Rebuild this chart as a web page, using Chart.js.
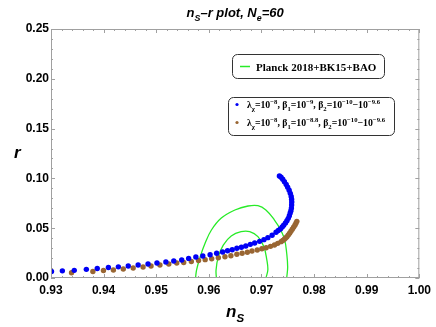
<!DOCTYPE html>
<html>
<head>
<meta charset="utf-8">
<script src="https://cdn.jsdelivr.net/npm/chart.js@4.4.1/dist/chart.umd.min.js"></script>
<style>
  html, body { margin: 0; padding: 0; background: #fff; }
  #wrap { width: 436px; height: 327px; }
</style>
</head>
<body>
<div id="wrap"><canvas id="nsr"></canvas></div>
<script>
// ---- data ----
const blueNs = [0.93009, 0.93216, 0.93442, 0.93672, 0.93879, 0.94091, 0.94280, 0.94468, 0.94656, 0.94844,
  0.95014, 0.95183, 0.95333, 0.95484, 0.95616, 0.95753, 0.95885, 0.96024, 0.96148, 0.96261,
  0.96355, 0.96444, 0.96532, 0.96619, 0.96702, 0.96788, 0.96871, 0.96965, 0.97046, 0.97121,
  0.97202, 0.97277, 0.97319, 0.97360, 0.97394, 0.97422, 0.97456, 0.97484, 0.97509, 0.97530,
  0.97546, 0.97560, 0.97569, 0.97573, 0.97575, 0.97573, 0.97565, 0.97548, 0.97526, 0.97498,
  0.97470, 0.97436, 0.97404, 0.97372, 0.97341];
const blueR = [0.0065, 0.0072, 0.0077, 0.0087, 0.0095, 0.0105, 0.0112, 0.0120, 0.0131, 0.0141,
  0.0151, 0.0161, 0.0171, 0.0181, 0.0197, 0.0211, 0.0221, 0.0234, 0.0248, 0.0261,
  0.0274, 0.0284, 0.0298, 0.0308, 0.0321, 0.0338, 0.0351, 0.0368, 0.0385, 0.0405,
  0.0429, 0.0459, 0.0477, 0.0492, 0.0512, 0.0529, 0.0552, 0.0575, 0.0599, 0.0625,
  0.0652, 0.0675, 0.0702, 0.0733, 0.0763, 0.0790, 0.0818, 0.0850, 0.0881, 0.0911,
  0.0939, 0.0967, 0.0991, 0.1011, 0.1024];

const brownNs = [0.93390, 0.93796, 0.93997, 0.94186, 0.94374, 0.94562, 0.94750, 0.94901, 0.95070, 0.95239,
  0.95390, 0.95522, 0.95667, 0.95804, 0.95930, 0.96054, 0.96180, 0.96306, 0.96419, 0.96532,
  0.96632, 0.96732, 0.96820, 0.96920, 0.97008, 0.97089, 0.97172, 0.97247, 0.97309, 0.97372,
  0.97405, 0.97435, 0.97460, 0.97484, 0.97510, 0.97535, 0.97560, 0.97586, 0.97610, 0.97635, 0.97655, 0.97672];
const brownR = [0.0053, 0.0065, 0.0075, 0.0080, 0.0090, 0.0100, 0.0110, 0.0120, 0.0131, 0.0141,
  0.0151, 0.0156, 0.0166, 0.0176, 0.0184, 0.0194, 0.0204, 0.0214, 0.0224, 0.0238,
  0.0248, 0.0258, 0.0271, 0.0281, 0.0294, 0.0304, 0.0318, 0.0331, 0.0348, 0.0365,
  0.0376, 0.0389, 0.0402, 0.0415, 0.0432, 0.0449, 0.0469, 0.0489, 0.0509, 0.0529, 0.0549, 0.0569];

// Planck 2018+BK15+BAO contours (95% outer, 68% inner)
const outerNs = [0.95747, 0.95766, 0.95836, 0.95930, 0.96049, 0.96237, 0.96495, 0.96745, 0.96933,
  0.97084, 0.97247, 0.97366, 0.97441, 0.97479, 0.97498, 0.97479];
const outerR = [0.0, 0.008, 0.0214, 0.0351, 0.0482, 0.0602, 0.0683, 0.0723, 0.0726,
  0.0683, 0.0582, 0.0482, 0.0382, 0.0251, 0.0110, 0.0];
const innerNs = [0.96143, 0.96137, 0.96180, 0.96274, 0.96425, 0.96613, 0.96777, 0.96933,
  0.97046, 0.97102, 0.97121, 0.97084];
const innerR = [0.0, 0.008, 0.0214, 0.0331, 0.0422, 0.0465, 0.0465, 0.0415,
  0.0314, 0.0181, 0.008, 0.0];

const xTickVals = [0.93, 0.94, 0.95, 0.96, 0.97, 0.98, 0.99, 1.00];
const yTickVals = [0.00, 0.05, 0.10, 0.15, 0.20, 0.25];

const BLUE = 'rgb(0,0,245)';
const BROWN = 'rgb(153,102,51)';
const GREEN = 'rgb(40,235,40)';

const pts = (xs, ys) => xs.map((v, i) => ({ x: v, y: ys[i] }));

// texte avec indices / exposants : [texte, 'n' | 'sub' | 'sup']
function drawRich(ctx, segs, x, y, size, family, style, measureOnly) {
    let cx = x;
    for (const [t, m] of segs) {
        const s = m === 'n' ? size : size * 0.68;
        ctx.font = `${style} ${s}px ${family}`;
        const dy = m === 'sub' ? size * 0.28 : (m === 'sup' ? -size * 0.4 : 0);
        if (!measureOnly) ctx.fillText(t, cx, y + dy);
        cx += ctx.measureText(t).width;
    }
    return cx - x;
}

const titleSegs = [['n', 'n'], ['S', 'sub'], ['\u2013r plot, N', 'n'], ['e', 'sub'], ['=60', 'n']];
const legend1 = 'Planck 2018+BK15+BAO';
const legendRows = [
    [['\u03bb', 'n'], ['\u03c7', 'sub'], ['=10', 'n'], ['\u22128', 'sup'], [', \u03b2', 'n'], ['1', 'sub'], ['=10', 'n'], ['\u22129', 'sup'],
     [', \u03b2', 'n'], ['2', 'sub'], ['=10', 'n'], ['\u221210', 'sup'], ['\u221210', 'n'], ['\u22129.6', 'sup']],
    [['\u03bb', 'n'], ['\u03c7', 'sub'], ['=10', 'n'], ['\u22128', 'sup'], [', \u03b2', 'n'], ['1', 'sub'], ['=10', 'n'], ['\u22128.8', 'sup'],
     [', \u03b2', 'n'], ['2', 'sub'], ['=10', 'n'], ['\u221210', 'sup'], ['\u221210', 'n'], ['\u22129.6', 'sup']]
];

function roundBox(ctx, x, y, w, h, r) {
    ctx.beginPath();
    ctx.moveTo(x + r, y);
    ctx.arcTo(x + w, y, x + w, y + h, r);
    ctx.arcTo(x + w, y + h, x, y + h, r);
    ctx.arcTo(x, y + h, x, y, r);
    ctx.arcTo(x, y, x + w, y, r);
    ctx.closePath();
    ctx.fillStyle = '#fff';
    ctx.fill();
    ctx.strokeStyle = '#333';
    ctx.lineWidth = 1;
    ctx.stroke();
}

// -----------------------------
// Cadre, graduations internes, titres, légendes
// -----------------------------
const framePlugin = {
    id: 'frame',
    afterDraw(chart) {
        const { ctx, chartArea: a, scales: { x, y } } = chart;
        ctx.save();
        ctx.strokeStyle = '#a0a0a0';
        ctx.lineWidth = 1;
        ctx.strokeRect(a.left + 0.5, a.top + 0.5, a.right - a.left - 1, a.bottom - a.top - 1);
        ctx.beginPath();
        for (let i = 0; i <= 35; i++) {
            const px = Math.round(x.getPixelForValue(0.93 + i * 0.002)) + 0.5;
            const len = i % 5 === 0 ? 4 : 2;
            ctx.moveTo(px, a.bottom); ctx.lineTo(px, a.bottom - len);
            ctx.moveTo(px, a.top); ctx.lineTo(px, a.top + len);
        }
        for (let i = 0; i <= 25; i++) {
            const py = Math.round(y.getPixelForValue(i * 0.01)) + 0.5;
            const len = i % 5 === 0 ? 4 : 2;
            ctx.moveTo(a.left, py); ctx.lineTo(a.left + len, py);
            ctx.moveTo(a.right, py); ctx.lineTo(a.right - len, py);
        }
        ctx.stroke();

        ctx.fillStyle = '#000';
        ctx.textBaseline = 'alphabetic';
        ctx.textAlign = 'left';
        const cx = (a.left + a.right) / 2;

        // titre
        const sans = '"Liberation Sans", Arial, sans-serif';
        const tw = drawRich(ctx, titleSegs, 0, 0, 13, sans, 'italic bold', true);
        drawRich(ctx, titleSegs, cx - tw / 2, 17, 13, sans, 'italic bold');

        // titres des axes
        const xs = [['n', 'n'], ['S', 'sub']];
        const xw = drawRich(ctx, xs, 0, 0, 17, sans, 'italic bold', true);
        drawRich(ctx, xs, cx - xw / 2, 317, 17, sans, 'italic bold');
        ctx.font = `italic bold 17px ${sans}`;
        ctx.fillText('r', 14, 158);

        // légende 1
        const serif = '"Liberation Serif", "Times New Roman", serif';
        roundBox(ctx, 232.5, 54.5, 152, 24, 5);
        ctx.strokeStyle = GREEN;
        ctx.lineWidth = 1.5;
        ctx.beginPath(); ctx.moveTo(240, 66.5); ctx.lineTo(250, 66.5); ctx.stroke();
        ctx.fillStyle = '#000';
        ctx.font = `bold 11px ${serif}`;
        ctx.fillText(legend1, 256, 70.5);

        // légende 2
        roundBox(ctx, 228.5, 97.5, 166, 38, 5);
        [BLUE, BROWN].forEach((c, i) => {
            const ry = 104.5 + i * 18;
            ctx.fillStyle = c;
            ctx.beginPath(); ctx.arc(237, ry, 1.6, 0, Math.PI * 2); ctx.fill();
            ctx.fillStyle = '#000';
            drawRich(ctx, legendRows[i], 247, ry + 3.5, 9.8, serif, 'bold');
        });
        ctx.restore();
    }
};

const canvas = document.getElementById('nsr');
new Chart(canvas.getContext('2d'), {
    type: 'scatter',
    data: {
        datasets: [
            { data: pts(outerNs, outerR), showLine: true, borderColor: GREEN, borderWidth: 1.3,
              pointRadius: 0, tension: 0.4, fill: false, order: 3 },
            { data: pts(innerNs, innerR), showLine: true, borderColor: GREEN, borderWidth: 1.3,
              pointRadius: 0, tension: 0.4, fill: false, order: 3 },
            { data: pts(brownNs, brownR), backgroundColor: BROWN, borderWidth: 0, pointRadius: 2.7, order: 2 },
            { data: pts(blueNs, blueR), backgroundColor: BLUE, borderWidth: 0, pointRadius: 2.7, order: 1 }
        ]
    },
    options: {
        responsive: true,
        maintainAspectRatio: false,
        animation: false,
        layout: { padding: { left: 0, top: 29, right: 13, bottom: 0 } },
        plugins: { legend: { display: false }, tooltip: { enabled: false } },
        scales: {
            x: {
                type: 'linear', min: 0.93, max: 1.0,
                grid: { display: false, drawTicks: false },
                border: { display: false },
                afterBuildTicks: s => { s.ticks = xTickVals.map(v => ({ value: v })); },
                afterFit: s => { s.height = 49; },
                ticks: { padding: 5, color: '#000', font: { family: '"Liberation Sans", Arial, sans-serif', size: 12, weight: 'bold' },
                         callback: v => v.toFixed(2), maxRotation: 0 }
            },
            y: {
                type: 'linear', min: 0, max: 0.25,
                grid: { display: false, drawTicks: false },
                border: { display: false },
                afterBuildTicks: s => { s.ticks = yTickVals.map(v => ({ value: v })); },
                afterFit: s => { s.width = 51; },
                ticks: { padding: 2, color: '#000', font: { family: '"Liberation Sans", Arial, sans-serif', size: 12, weight: 'bold' },
                         callback: v => v.toFixed(2) }
            }
        }
    },
    plugins: [framePlugin]
});
</script>
</body>
</html>
